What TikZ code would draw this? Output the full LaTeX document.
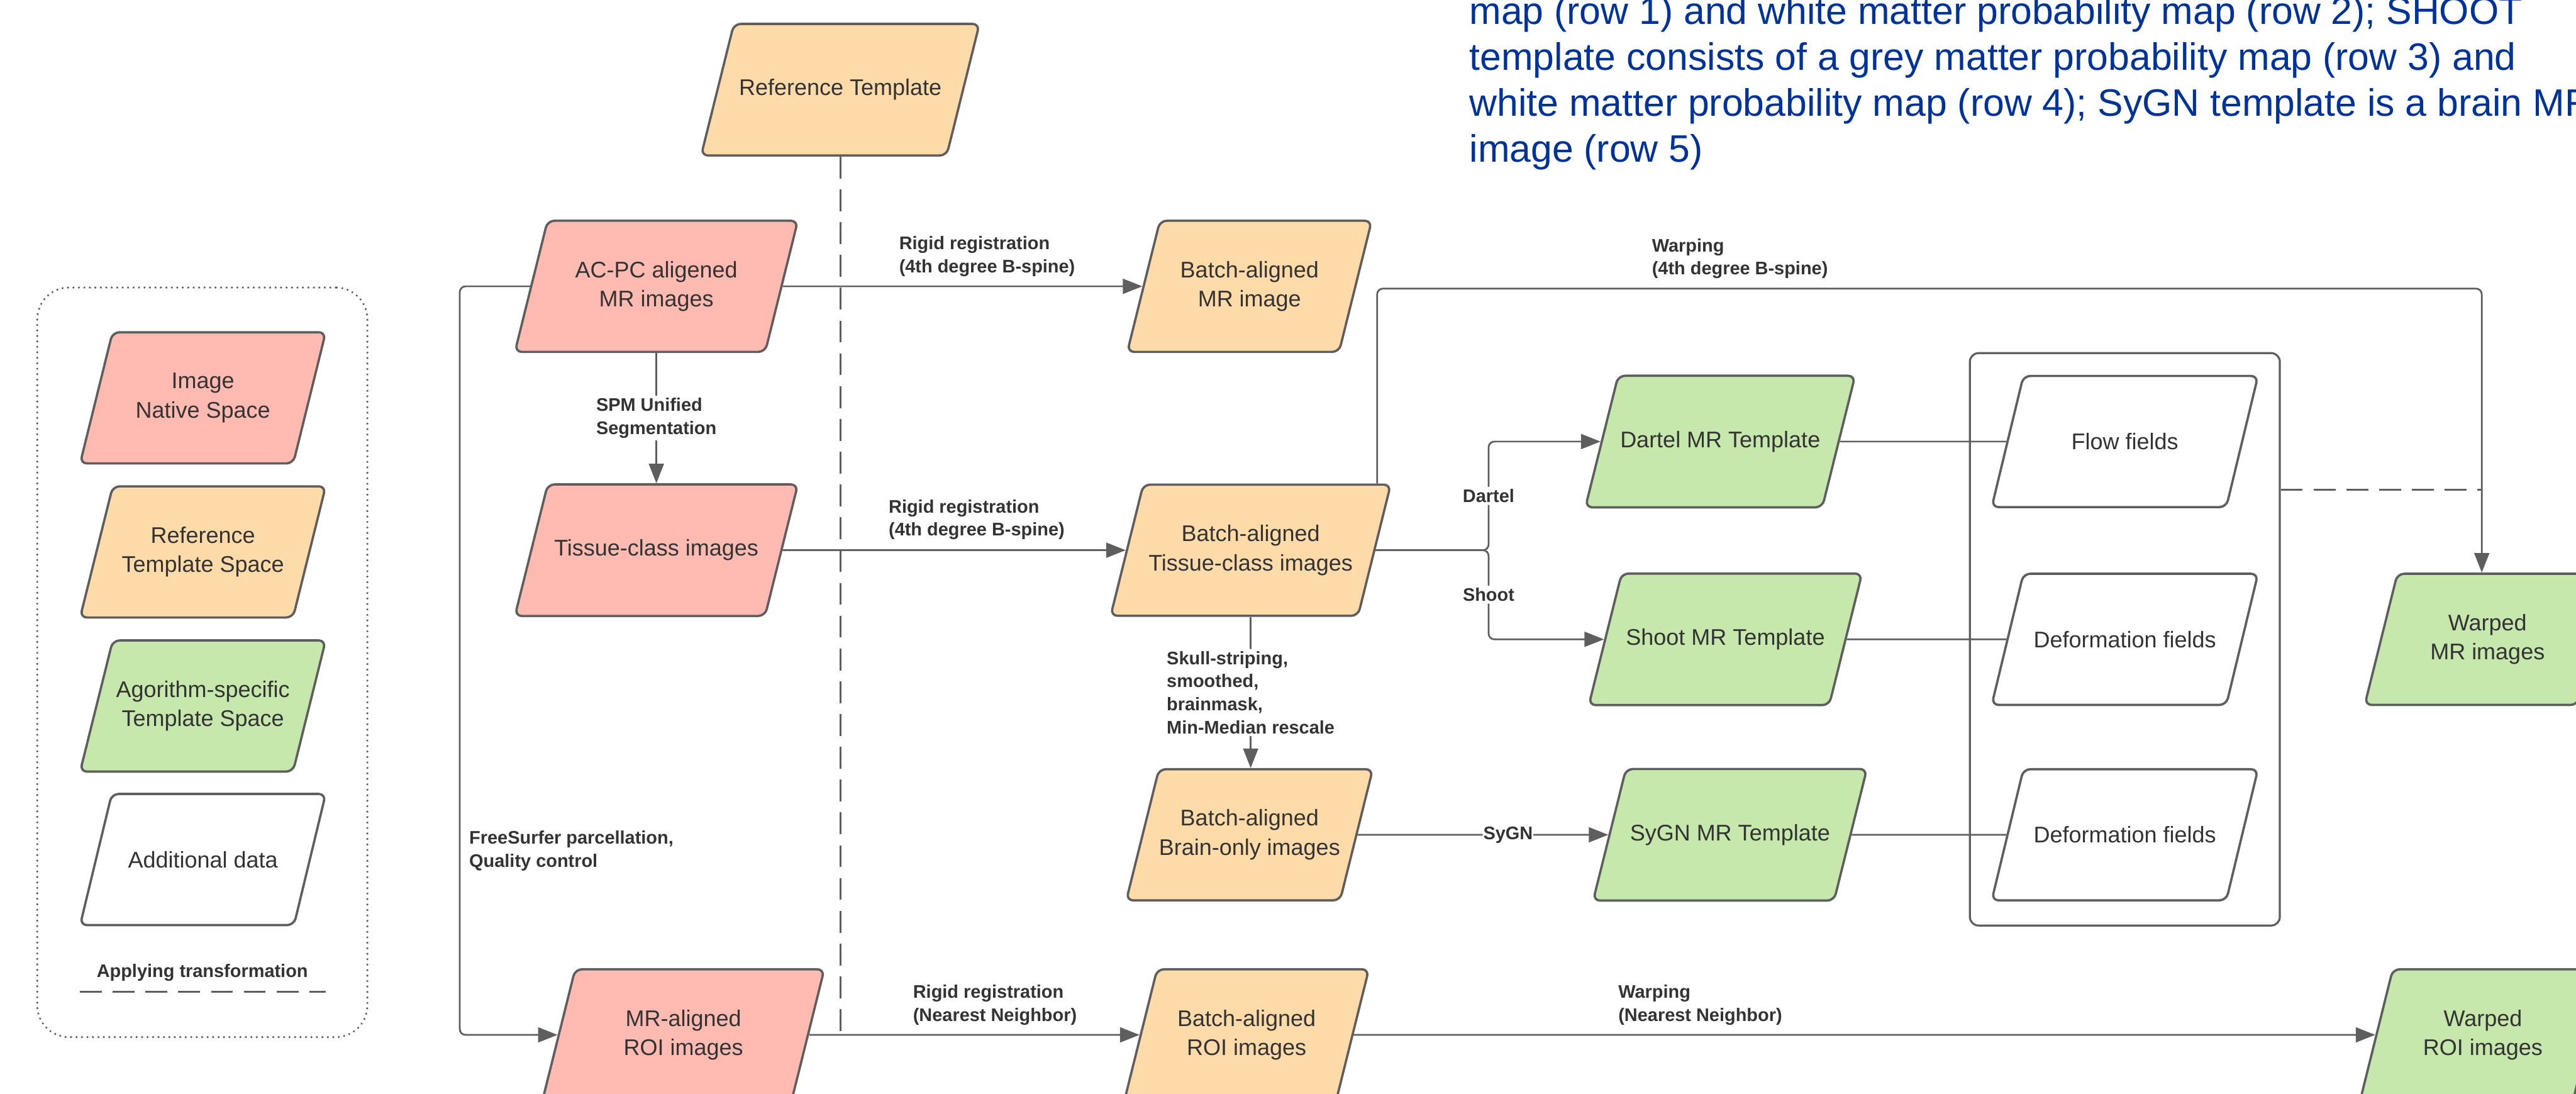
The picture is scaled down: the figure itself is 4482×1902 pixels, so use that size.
\documentclass[tikz,border=0pt]{standalone}
\usepackage{fontspec}
\setmainfont{Liberation Sans}
\usetikzlibrary{shapes.geometric,arrows.meta}

\definecolor{nativecol}{HTML}{FFBBB1}
\definecolor{refcol}{HTML}{FFDBA9}
\definecolor{algcol}{HTML}{C7E8AC}
\definecolor{linecol}{HTML}{5E5E5E}
\definecolor{txtcol}{HTML}{333333}
\definecolor{capcol}{HTML}{003399}

\tikzset{
  datbox/.style={trapezium, trapezium left angle=76, trapezium right angle=104,
    trapezium stretches body, draw=linecol, line width=0.04cm,
    rounded corners=0.12cm, inner sep=0pt, inner ysep=0.70cm, minimum height=2.28cm,
    minimum width=#1, align=center, text=txtcol,
    font=\fontsize{11.2pt}{14.5pt}\selectfont},
  datbox/.default=4.25cm,
  oneline/.style={inner ysep=0.96cm},
  native/.style={datbox=#1, fill=nativecol},
  native/.default=4.92cm,
  refsp/.style={datbox=#1, fill=refcol},
  refsp/.default=4.25cm,
  algsp/.style={datbox=#1, fill=algcol},
  algsp/.default=4.72cm,
  extra/.style={datbox=#1, fill=white},
  extra/.default=4.63cm,
  conn/.style={draw=linecol, line width=0.03cm, rounded corners=0.1cm},
  arr/.style={conn, -{Triangle[length=0.34cm,width=0.26cm]}},
  apply/.style={draw=linecol, line width=0.035cm, dash pattern=on 0.38cm off 0.19cm},
  lbl/.style={font=\fontsize{9pt}{11.4pt}\selectfont\bfseries, text=txtcol,
    align=left, inner sep=0.04cm},
  lblw/.style={lbl, fill=white},
  note/.style={font=\fontsize{18.9pt}{22.8pt}\selectfont, text=capcol, inner sep=0pt}
}

\begin{document}
\begin{tikzpicture}[x=0.01cm,y=-0.01cm]
\clip (0,0) rectangle (4482,1902);
%legend
\node[draw=linecol, line width=0.04cm, line cap=round, dash pattern=on 0pt off 0.095cm,
  rounded corners=0.55cm, minimum width=5.74cm, minimum height=13.03cm] (legend) at (352,1152) {};
\node[native=4.27cm] (lnat) at (353,692) {Image\\Native Space};
\node[refsp=4.27cm] (lref) at (353,960) {Reference\\Template Space};
\node[algsp=4.27cm] (lalg) at (353,1228) {Agorithm-specific\\Template Space};
\node[extra=4.27cm, oneline] (ladd) at (353,1495) {Additional data};
\node[lbl] (lapp) at (352,1692) {Applying transformation};
\coordinate (la) at (139,1725);
\coordinate (lb) at (567,1725);
\draw[apply] (la) -- (lb);

%reference template
\node[refsp=4.84cm, oneline] (reft) at (1462,156) {Reference Template};
%native space
\node[native] (acpc) at (1142,498) {AC-PC aligened\\MR images};
\node[native, oneline] (tiss) at (1142,957) {Tissue-class images};
\node[native=4.90cm] (mroi) at (1189,1800) {MR-aligned\\ROI images};
%batch-aligned
\node[refsp] (bmr) at (2174,498) {Batch-aligned\\MR image};
\node[refsp=4.87cm] (btis) at (2176,957) {Batch-aligned\\Tissue-class images};
\node[refsp] (brain) at (2174,1452) {Batch-aligned\\Brain-only images};
\node[refsp] (broi) at (2169,1800) {Batch-aligned\\ROI images};
%templates
\node[algsp=4.69cm, oneline] (dartel) at (2993,768) {Dartel MR Template};
\node[algsp=4.75cm, oneline] (shoot) at (3002,1112) {Shoot MR Template};
\node[algsp=4.76cm, oneline] (sygn) at (3010,1452) {SyGN MR Template};
%fields
\node[draw=linecol, line width=0.035cm, rounded corners=0.15cm,
  minimum width=5.39cm, minimum height=9.95cm] (fields) at (3697,1112) {};
\node[extra, oneline] (flow) at (3697,768) {Flow fields};
\node[extra, oneline] (def1) at (3697,1112) {Deformation fields};
\node[extra, oneline] (def2) at (3697,1452) {Deformation fields};
%warped
\node[algsp=4.27cm] (wmr) at (4328,1112) {Warped\\MR images};
\node[algsp=4.27cm] (wroi) at (4320,1800) {Warped\\ROI images};

\coordinate (lft) at (800,0);
\coordinate (br) at (2590,957);
\coordinate (wtop) at (2396,502);
\coordinate (wturn) at (4318,502);
\coordinate (dash) at (4318,852);

%connectors
\draw[apply] (reft.center |- reft.south) -- (reft.center |- mroi.east);
\draw[arr] (acpc) -- node[lbl, pos=0.315, anchor=west, yshift=0.52cm] {Rigid registration\\(4th degree B-spine)} (bmr);
\draw[arr] (acpc.center |- acpc.south) -- node[lblw] {SPM Unified\\Segmentation} (acpc.center |- tiss.north);
\draw[arr] (tiss) -- node[lbl, pos=0.3, anchor=west, yshift=0.53cm] {Rigid registration\\(4th degree B-spine)} (btis);
\draw[arr] (btis.center |- btis.south) -- node[lblw] {Skull-striping,\\smoothed,\\brainmask,\\Min-Median rescale} (btis.center |- brain.north);
\draw[arr] (btis.east) -- (br) |- node[lblw, pos=0.25] {Dartel} (dartel.west);
\draw[arr] (btis.east) -- (br) |- node[lblw, pos=0.25] {Shoot} (shoot.west);
\draw[arr] (brain) -- node[lblw, pos=0.6, inner sep=0.01cm] {SyGN} (sygn);
\draw[conn] (dartel) -- (flow);
\draw[conn] (shoot) -- (def1);
\draw[conn] (sygn) -- (def2);
\draw[arr] (btis.north -| wtop) |- node[lbl, pos=0.623, anchor=west, yshift=0.52cm] {Warping\\(4th degree B-spine)} (wturn) -- (wturn |- wmr.north);
\draw[apply] (fields.east |- dash) -- (dash);
\draw[arr] (acpc.west) -| node[lbl, pos=0.877, anchor=west, xshift=0.11cm] {FreeSurfer parcellation,\\Quality control} (lft |- mroi.west) -- (mroi.west);
\draw[arr] (mroi) -- node[lbl, pos=0.305, anchor=west, yshift=0.52cm] {Rigid registration\\(Nearest Neighbor)} (broi);
\draw[arr] (broi) -- node[lbl, pos=0.256, anchor=west, yshift=0.52cm] {Warping\\(Nearest Neighbor)} (wroi);

%caption
\foreach \capline [count=\i from 0] in {{map (row 1) and white matter probability map (row 2); SHOOT},
  {template consists of a grey matter probability map (row 3) and},
  {white matter probability map (row 4); SyGN template is a brain MR},
  {image (row 5)}}
  \node[note, anchor=base west] (cap\i) at (2556,{42+80*\i}) {\capline};
\end{tikzpicture}
\end{document}
